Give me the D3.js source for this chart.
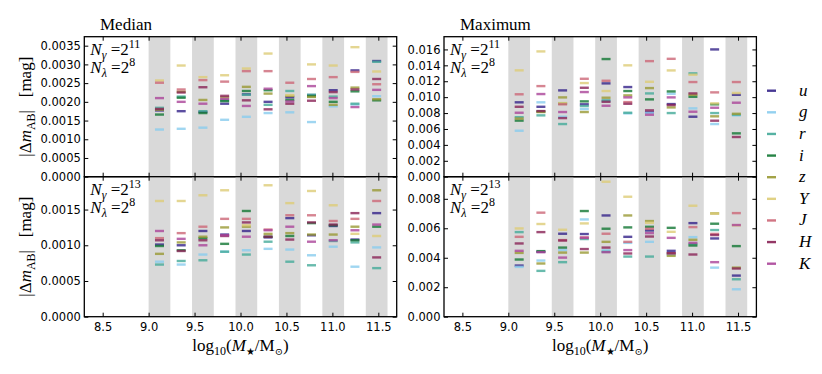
<!DOCTYPE html>
<html>
<head>
<meta charset="utf-8">
<script src="https://cdn.jsdelivr.net/npm/d3@7"></script>
<style>
body { margin: 0; background: #fff; }
.tick text { font-family: "DejaVu Sans", sans-serif; font-size: 11.5px; fill: #000; }
.tick line { stroke: #000; stroke-width: 1; }
.tex { font-family: "Liberation Serif", "DejaVu Serif", serif; fill: #000; }
</style>
</head>
<body>
<svg id="chart" width="822" height="374"></svg>
<script>
// photometric bands and their colours
var bandNames = ["u", "g", "r", "i", "z", "Y", "J", "H", "K"];
var bandColors = ["#332288", "#88CCEE", "#44AA99", "#117733", "#999933", "#DDCC77", "#CC6677", "#882255", "#AA4499"];

// stellar mass bins (log10 M/Msun)
var massEdges = [9.0, 9.2364, 9.4727, 9.7091, 9.9455, 10.1818, 10.4182, 10.6545, 10.8909, 11.1273, 11.3636, 11.6];
var massTicks = [8.5, 9.0, 9.5, 10.0, 10.5, 11.0, 11.5];

// |dm_AB| per band (rows u..K), per mass bin
var medianN11 = [
    [0.00177, 0.00175, 0.00173, 0.00195, 0.00220, 0.00200, 0.00212, 0.00218, 0.00231, 0.00284, 0.00309],
    [0.00126, 0.00128, 0.00131, 0.00152, 0.00160, 0.00170, 0.00172, 0.00146, 0.00188, 0.00193, 0.00215],
    [0.00184, 0.00214, 0.00175, 0.00204, 0.00219, 0.00192, 0.00229, 0.00219, 0.00214, 0.00195, 0.00307],
    [0.00166, 0.00211, 0.00170, 0.00202, 0.00229, 0.00231, 0.00205, 0.00215, 0.00200, 0.00228, 0.00204],
    [0.00179, 0.00227, 0.00205, 0.00212, 0.00240, 0.00222, 0.00216, 0.00213, 0.00192, 0.00238, 0.00207],
    [0.00257, 0.00297, 0.00266, 0.00271, 0.00289, 0.00329, 0.00218, 0.00300, 0.00297, 0.00346, 0.00281],
    [0.00251, 0.00233, 0.00258, 0.00254, 0.00282, 0.00282, 0.00251, 0.00261, 0.00266, 0.00280, 0.00247],
    [0.00181, 0.00225, 0.00239, 0.00216, 0.00204, 0.00180, 0.00195, 0.00203, 0.00226, 0.00233, 0.00261],
    [0.00210, 0.00200, 0.00195, 0.00208, 0.00189, 0.00235, 0.00201, 0.00242, 0.00210, 0.00186, 0.00232]
];
var maxN11 = [
    [0.00935, 0.00879, 0.01085, 0.00910, 0.01173, 0.01127, 0.00810, 0.00913, 0.00754, 0.01600, 0.01030],
    [0.00578, 0.00935, 0.00754, 0.00850, 0.00950, 0.00796, 0.00804, 0.01043, 0.00859, 0.00662, 0.00771],
    [0.00748, 0.00771, 0.00662, 0.00888, 0.00960, 0.00804, 0.01047, 0.00800, 0.01299, 0.00800, 0.00780],
    [0.00705, 0.00820, 0.00920, 0.00947, 0.01479, 0.01077, 0.00972, 0.01072, 0.01005, 0.00910, 0.00545],
    [0.00731, 0.00813, 0.00997, 0.00813, 0.00993, 0.01022, 0.01114, 0.00871, 0.01030, 0.00759, 0.00791],
    [0.01337, 0.01575, 0.00926, 0.01177, 0.01077, 0.01400, 0.01193, 0.01336, 0.01282, 0.00922, 0.01052],
    [0.01036, 0.01139, 0.00910, 0.01231, 0.01206, 0.00938, 0.01453, 0.01482, 0.01190, 0.01060, 0.01190],
    [0.00879, 0.00825, 0.00737, 0.01118, 0.00942, 0.00917, 0.00834, 0.00901, 0.01047, 0.00704, 0.00499],
    [0.00804, 0.01039, 0.00813, 0.01064, 0.00892, 0.00997, 0.00779, 0.00997, 0.00817, 0.00867, 0.00930]
];
var medianN13 = [
    [0.00101, 0.00100, 0.00120, 0.00115, 0.00120, 0.00111, 0.00138, 0.00114, 0.00127, 0.00108, 0.00145],
    [0.00077, 0.00073, 0.00087, 0.00091, 0.00093, 0.00095, 0.00094, 0.00086, 0.00098, 0.00070, 0.00097],
    [0.00073, 0.00078, 0.00079, 0.00091, 0.00087, 0.00105, 0.00077, 0.00072, 0.00106, 0.00104, 0.00068],
    [0.00099, 0.00093, 0.00110, 0.00102, 0.00148, 0.00112, 0.00113, 0.00131, 0.00128, 0.00107, 0.00126],
    [0.00088, 0.00104, 0.00112, 0.00125, 0.00126, 0.00116, 0.00117, 0.00115, 0.00115, 0.00126, 0.00177],
    [0.00162, 0.00162, 0.00170, 0.00177, 0.00128, 0.00184, 0.00159, 0.00176, 0.00156, 0.00116, 0.00113],
    [0.00110, 0.00117, 0.00126, 0.00137, 0.00137, 0.00122, 0.00142, 0.00142, 0.00134, 0.00137, 0.00162],
    [0.00107, 0.00092, 0.00107, 0.00113, 0.00132, 0.00112, 0.00108, 0.00132, 0.00129, 0.00145, 0.00083],
    [0.00120, 0.00109, 0.00100, 0.00114, 0.00112, 0.00121, 0.00126, 0.00105, 0.00107, 0.00121, 0.00129]
];
var maxN13 = [
    [0.00347, 0.00440, 0.00563, 0.00561, 0.00687, 0.00542, 0.00585, 0.00447, 0.00635, 0.00531, 0.00279],
    [0.00338, 0.00381, 0.00452, 0.00660, 0.00450, 0.00501, 0.00508, 0.00420, 0.00540, 0.00333, 0.00186],
    [0.00574, 0.00311, 0.00370, 0.00527, 0.00440, 0.00408, 0.00408, 0.00430, 0.00493, 0.00588, 0.00254],
    [0.00388, 0.00445, 0.00469, 0.00717, 0.00597, 0.00606, 0.00610, 0.00603, 0.00483, 0.00631, 0.00479],
    [0.00433, 0.00361, 0.00435, 0.00435, 0.00508, 0.00687, 0.00649, 0.00413, 0.00522, 0.00701, 0.00333],
    [0.00599, 0.00629, 0.00590, 0.00633, 0.00916, 0.00814, 0.00637, 0.00576, 0.00753, 0.00700, 0.00620],
    [0.00542, 0.00706, 0.00520, 0.00538, 0.00563, 0.00508, 0.00597, 0.00430, 0.00608, 0.00562, 0.00703],
    [0.00497, 0.00574, 0.00517, 0.00459, 0.00469, 0.00429, 0.00544, 0.00431, 0.00422, 0.00554, 0.00327],
    [0.00447, 0.00438, 0.00401, 0.00535, 0.00438, 0.00452, 0.00567, 0.00535, 0.00501, 0.00370, 0.00622]
];

var yTicksMedianN11 = [0, 0.0005, 0.001, 0.0015, 0.002, 0.0025, 0.003, 0.0035];
var yTicksMaxN11 = [0, 0.002, 0.004, 0.006, 0.008, 0.01, 0.012, 0.014, 0.016];
var yTicksMedianN13 = [0, 0.0005, 0.001, 0.0015];
var yTicksMaxN13 = [0, 0.002, 0.004, 0.006, 0.008];

var svg = d3.select("#chart");

var panel_w = 312.4;
var panel_h = 140;
var col_left = [84.3, 444];
var row_top = [36.7, 176.7];
var band_fill = "#d9d9d9";

var panels = [
    {col: 0, row: 0, data: medianN11, ymax: 0.00374, ticks: yTicksMedianN11, fmt: ".4f", nexp: "11"},
    {col: 1, row: 0, data: maxN11, ymax: 0.0176, ticks: yTicksMaxN11, fmt: ".3f", nexp: "11"},
    {col: 0, row: 1, data: medianN13, ymax: 0.00196, ticks: yTicksMedianN13, fmt: ".4f", nexp: "13"},
    {col: 1, row: 1, data: maxN13, ymax: 0.0095, ticks: yTicksMaxN13, fmt: ".3f", nexp: "13"}
];

var x = d3.scaleLinear().domain([8.3, 11.7]).range([0, panel_w]);

// bins: alternate grey shading
var bins = d3.range(massEdges.length - 1).map(function (k) {
    return {lo: massEdges[k], hi: massEdges[k + 1], mid: (massEdges[k] + massEdges[k + 1]) / 2, k: k};
});

panels.forEach(function (p) {
    var g = svg.append("g")
        .attr("transform", "translate(" + col_left[p.col] + "," + row_top[p.row] + ")");
    var y = d3.scaleLinear().domain([0, p.ymax]).range([panel_h, 0]);

    g.selectAll("rect.bin")
        .data(bins.filter(function (b) { return b.k % 2 == 0; }))
        .enter().append("rect")
        .attr("class", "bin")
        .attr("x", function (b) { return x(b.lo); })
        .attr("width", function (b) { return x(b.hi) - x(b.lo); })
        .attr("y", 0)
        .attr("height", panel_h)
        .style("fill", band_fill);

    // one short dash per band per bin
    var pts = [];
    p.data.forEach(function (row, bi) {
        row.forEach(function (v, k) {
            pts.push({band: bi, m: bins[k].mid, v: v});
        });
    });
    g.selectAll("rect.mark")
        .data(pts)
        .enter().append("rect")
        .attr("class", "mark")
        .attr("x", function (d) { return x(d.m) - 4.5; })
        .attr("y", function (d) { return y(d.v) - 1.2; })
        .attr("width", 9)
        .attr("height", 2.4)
        .style("fill", function (d) { return bandColors[d.band]; })
        .style("opacity", 0.8);

    // axes, ticks pointing inwards on all four sides
    var left = g.append("g").call(
        d3.axisLeft(y).tickValues(p.ticks).tickSize(-4).tickPadding(3.5).tickFormat(d3.format(p.fmt)));
    left.select(".domain").remove();
    var right = g.append("g").attr("transform", "translate(" + panel_w + ",0)")
        .call(d3.axisRight(y).tickValues(p.ticks).tickSize(-4).tickFormat(""));
    right.select(".domain").remove();
    var top = g.append("g").call(d3.axisTop(x).tickValues(massTicks).tickSize(-4).tickFormat(""));
    top.select(".domain").remove();
    var bottom = g.append("g").attr("transform", "translate(0," + panel_h + ")")
        .call(d3.axisBottom(x).tickValues(massTicks).tickSize(-4).tickPadding(6)
            .tickFormat(p.row == 1 ? d3.format(".1f") : ""));
    bottom.select(".domain").remove();
    g.append("rect")
        .attr("width", panel_w)
        .attr("height", panel_h)
        .style("fill", "none")
        .style("stroke", "#000")
        .style("stroke-width", 1.3);

    // N_gamma, N_lambda annotation
    var t1 = g.append("text").attr("class", "tex").attr("x", 6).attr("y", 18).attr("font-size", 17);
    t1.append("tspan").attr("font-style", "italic").text("N");
    t1.append("tspan").attr("font-style", "italic").attr("font-size", 12).attr("dy", 4).text("γ");
    t1.append("tspan").attr("dy", -4).text("\u00a0=2");
    t1.append("tspan").attr("font-size", 12).attr("dy", -7).text(p.nexp);
    var t2 = g.append("text").attr("class", "tex").attr("x", 6).attr("y", 36).attr("font-size", 17);
    t2.append("tspan").attr("font-style", "italic").text("N");
    t2.append("tspan").attr("font-style", "italic").attr("font-size", 12).attr("dy", 4).text("λ");
    t2.append("tspan").attr("dy", -4).text("\u00a0=2");
    t2.append("tspan").attr("font-size", 12).attr("dy", -7).text("8");

    // y label for the left column
    if (p.col == 0) {
        var yl = svg.append("text").attr("class", "tex")
            .attr("font-size", 17)
            .attr("text-anchor", "middle")
            .attr("transform", "translate(31," + (row_top[p.row] + panel_h / 2) + ") rotate(-90)");
        yl.append("tspan").text("|Δ");
        yl.append("tspan").attr("font-style", "italic").text("m");
        yl.append("tspan").attr("font-size", 12).attr("dy", 4).text("AB");
        yl.append("tspan").attr("dy", -4).text("|\u00a0\u00a0\u00a0[mag]");
    }

    // x label for the bottom row
    if (p.row == 1) {
        var xl = svg.append("text").attr("class", "tex")
            .attr("font-size", 17)
            .attr("text-anchor", "middle")
            .attr("x", col_left[p.col] + panel_w / 2)
            .attr("y", 351);
        xl.append("tspan").text("log");
        xl.append("tspan").attr("font-size", 12).attr("dy", 4).text("10");
        xl.append("tspan").attr("dy", -4).text("(");
        xl.append("tspan").attr("font-style", "italic").text("M");
        xl.append("tspan").attr("font-size", 10).attr("dy", 4).text("★");
        xl.append("tspan").attr("dy", -4).text("/M");
        xl.append("tspan").attr("font-size", 10).attr("dy", 4).text("⊙");
        xl.append("tspan").attr("dy", -4).text(")");
    }
});

// column titles
svg.append("text").attr("class", "tex").attr("x", 100).attr("y", 30).attr("font-size", 17).text("Median");
svg.append("text").attr("class", "tex").attr("x", 460).attr("y", 30).attr("font-size", 17).text("Maximum");

// legend
var ly = d3.scalePoint().domain(bandNames).range([90.7, 263.7]);
var lg = svg.selectAll("g.legend")
    .data(bandNames)
    .enter().append("g")
    .attr("class", "legend")
    .attr("transform", function (d) { return "translate(0," + ly(d) + ")"; });
lg.append("rect")
    .attr("x", 767)
    .attr("y", -1.2)
    .attr("width", 9)
    .attr("height", 2.4)
    .style("fill", function (d, i) { return bandColors[i]; })
    .style("opacity", 0.9);
lg.append("text")
    .attr("class", "tex")
    .attr("x", 799)
    .attr("y", 5)
    .attr("font-size", 17)
    .attr("font-style", "italic")
    .text(function (d) { return d; });
</script>
</body>
</html>
